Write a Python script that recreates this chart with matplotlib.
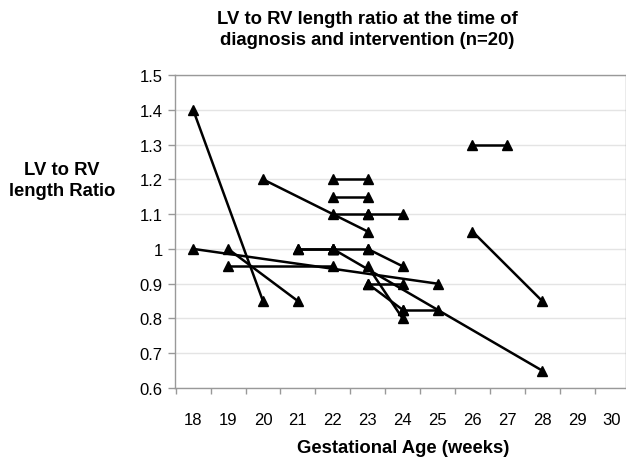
import numpy as np
import matplotlib.pyplot as plt
from matplotlib.ticker import FixedLocator, FuncFormatter

plt.rcParams['font.family'] = ['Liberation Sans', 'DejaVu Sans']

# one entry per fetus: age/ratio at diagnosis -> age/ratio at intervention
semana_diag = [18, 18, 19, 19, 20, 22, 22, 22, 23, 21, 22, 23, 22, 23, 23, 23, 24, 26, 26, 21]
ratio_diag = [1.4, 1.0, 1.0, 0.95, 1.2, 1.2, 1.15, 1.1, 1.1, 1.0, 1.0, 1.0, 1.0, 0.95, 0.9, 0.9, 0.825, 1.3, 1.05, 1.0]
semana_int = [20, 25, 21, 22, 23, 23, 23, 23, 24, 22, 23, 24, 28, 24, 24, 24, 25, 27, 28, 22]
ratio_int = [0.85, 0.9, 0.85, 0.95, 1.05, 1.2, 1.15, 1.1, 1.1, 1.0, 1.0, 0.95, 0.65, 0.8, 0.825, 0.9, 0.825, 1.3, 0.85, 1.0]

semanas = np.arange(18, 31)
yticks = np.round(np.arange(0.6, 1.51, 0.1), 1)

fig = plt.figure(figsize=(6.26, 4.6), dpi=100)
ax = fig.add_axes([175/626, 71/460, 1 - 175/626, 313/460])

for i in range(len(semana_diag)):
    ax.plot([semana_diag[i], semana_int[i]], [ratio_diag[i], ratio_int[i]],
            color='k', lw=1.8, marker='^', ms=6.5, mfc='k', mec='k', zorder=5)

ax.set_xlim(17.48, 30.4)
ax.set_ylim(0.6, 1.5)
ax.set_xticks(semanas)
ax.xaxis.set_minor_locator(FixedLocator(np.arange(17.5, 31, 1)))
ax.tick_params(axis='x', which='major', length=0, labelsize=12, pad=17)
ax.tick_params(axis='x', which='minor', length=4, color='#999999', width=1)
ax.set_yticks(yticks)
ax.yaxis.set_major_formatter(FuncFormatter(lambda v, p: '{:g}'.format(round(v, 1))))
ax.tick_params(axis='y', length=5, color='#999999', width=1, labelsize=12, pad=4)
ax.grid(axis='y', color='#e4e4e4', lw=1)
ax.set_axisbelow(True)
for s in ax.spines.values():
    s.set_color('#999999')
    s.set_linewidth(1)

fig.text(367/626, 1 - 30/460, 'LV to RV length ratio at the time of\ndiagnosis and intervention (n=20)',
         ha='center', va='center', fontsize=13.3, fontweight='bold', linespacing=1.35)
fig.text(62/626, 1 - 181/460, 'LV to RV\nlength Ratio', ha='center', va='center',
         fontsize=13.3, fontweight='bold', linespacing=1.3)
fig.text(403/626, 1 - 449/460, 'Gestational Age (weeks)', ha='center', va='center',
         fontsize=13.3, fontweight='bold')

fig.savefig('out.png', dpi=100)
